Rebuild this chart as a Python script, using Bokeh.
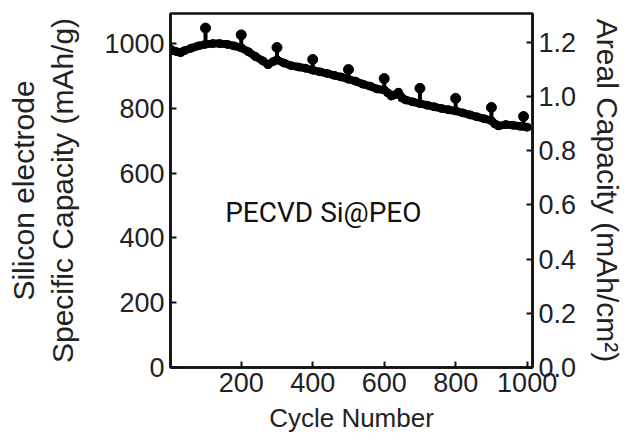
from bokeh.plotting import figure
from bokeh.models import Range1d, LinearAxis, Label, FixedTicker, PrintfTickFormatter
from bokeh.embed import file_html
from bokeh.resources import INLINE

# Main capacity curve (cycle, mAh/g)
cycles = [0, 10, 20, 30, 40, 60, 80, 100, 120, 140, 160, 180, 200, 220, 240, 260, 275, 290, 300,
          320, 340, 360, 380, 400, 420, 440, 460, 480, 500, 520, 540, 560, 580, 600, 610, 620,
          630, 640, 650, 660, 680, 700, 720, 740, 760, 780, 800, 820, 840, 860, 880, 900, 910,
          920, 940, 960, 980, 1000]
capacity = [985, 978, 975, 972, 978, 986, 993, 998, 1000, 1000, 998, 993, 987, 975, 960, 947, 935,
            945, 950, 940, 932, 928, 924, 918, 913, 908, 902, 897, 890, 884, 875, 869, 860, 857,
            848, 838, 842, 850, 832, 826, 820, 815, 810, 805, 800, 796, 792, 786, 780, 774, 768,
            762, 752, 746, 750, 748, 745, 742]

# Periodic high-capacity points (every 100 cycles)
spike_cycles = [100, 200, 300, 400, 500, 600, 700, 800, 900, 990]
spike_base = [998, 987, 950, 918, 890, 857, 815, 792, 762, 745]
spike_values = [1048, 1027, 988, 951, 920, 892, 862, 831, 803, 775]

x_ticks = [0, 200, 400, 600, 800, 1000]
y_ticks = [0, 200, 400, 600, 800, 1000]
y2_ticks = [0.0, 0.2, 0.4, 0.6, 0.8, 1.0, 1.2]

FONT = "Liberation Sans"

p = figure(width=636, height=443, output_backend="svg", toolbar_location=None,
           x_range=Range1d(2, 1015), y_range=Range1d(0, 1093))
p.min_border_left = 170
p.min_border_right = 104
p.min_border_top = 13
p.min_border_bottom = 76
p.outline_line_color = "#111111"
p.outline_line_width = 2.5
p.xgrid.visible = False
p.ygrid.visible = False
p.background_fill_color = "white"
p.border_fill_color = "white"

p.extra_y_ranges = {"areal": Range1d(0, 1.307)}
right = LinearAxis(y_range_name="areal")
p.add_layout(right, "right")

for ax in [p.xaxis[0], p.yaxis[0], right]:
    ax.major_tick_in = 6
    ax.major_tick_out = 0
    ax.minor_tick_in = 0
    ax.minor_tick_out = 0
    ax.axis_line_color = "#111111"
    ax.axis_line_width = 2.5
    ax.major_tick_line_width = 2
    ax.major_tick_line_color = "#111111"
    ax.major_label_text_font = FONT
    ax.major_label_text_font_size = "27px"
    ax.major_label_text_color = "#222222"
    ax.axis_label_text_font = FONT
    ax.axis_label_text_font_size = "30px"
    ax.axis_label_text_font_style = "normal"
    ax.axis_label_text_color = "#222222"

p.xaxis[0].ticker = FixedTicker(ticks=x_ticks)
p.yaxis[0].ticker = FixedTicker(ticks=y_ticks)
right.ticker = FixedTicker(ticks=y2_ticks)
right.formatter = PrintfTickFormatter(format="%.1f")

p.xaxis[0].axis_label = "Cycle Number"
p.xaxis[0].axis_label_text_font_size = "26px"
p.xaxis[0].major_label_standoff = 5
p.xaxis[0].axis_label_standoff = 8
p.yaxis[0].axis_label = "Silicon electrode\nSpecific Capacity (mAh/g)"
p.yaxis[0].major_label_standoff = 6
p.yaxis[0].axis_label_standoff = 22
right.axis_label = "Areal Capacity (mAh/cm²)"
right.major_label_standoff = 6
right.axis_label_standoff = 12

# main curve
p.line(cycles, capacity, line_color="black", line_width=8, line_cap="round", line_join="round")
p.scatter(cycles, capacity, size=8, color="black")
# spikes
p.segment(x0=spike_cycles, y0=spike_base, x1=spike_cycles, y1=spike_values,
          line_color="black", line_width=4)
p.scatter(spike_cycles, spike_values, size=10, color="black")

lab = Label(x=155, y=478, text="PECVD Si@PEO", text_font="Roboto", text_font_size="28px",
            text_color="#111111", text_baseline="middle")
p.add_layout(lab)

open("out.html", "w").write(file_html(p, INLINE))
